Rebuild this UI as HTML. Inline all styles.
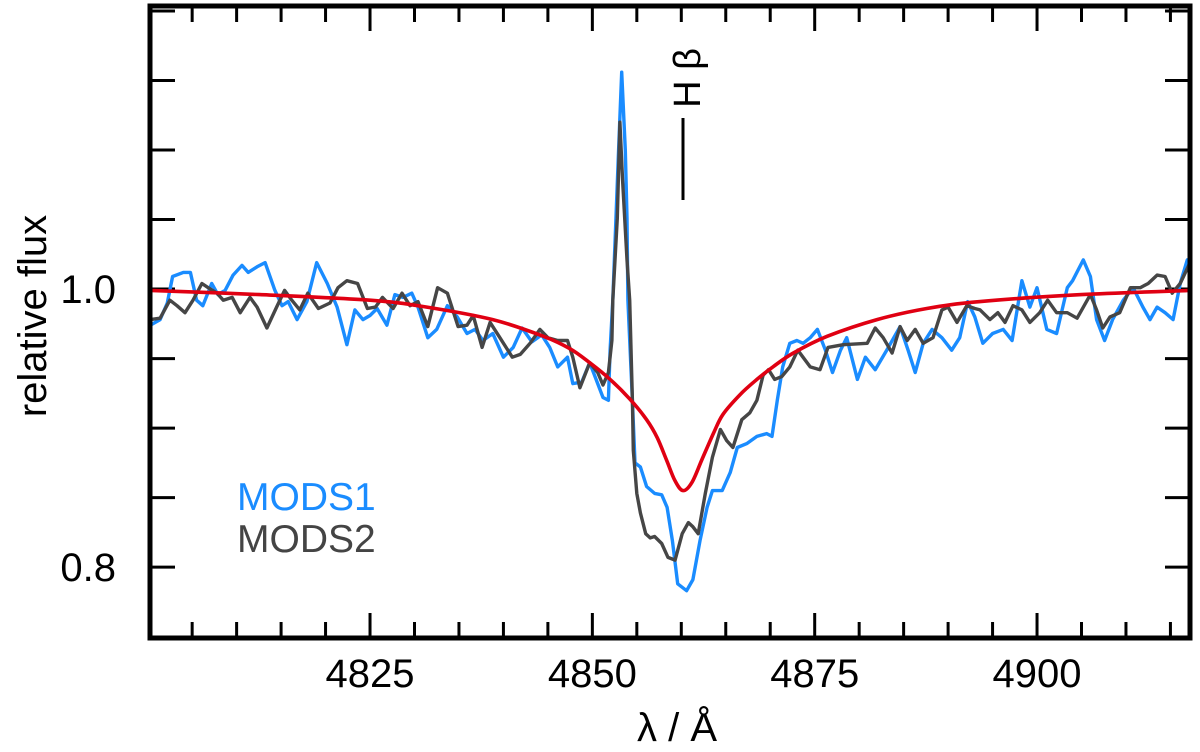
<!DOCTYPE html>
<html><head><meta charset="utf-8"><style>
html,body{margin:0;padding:0;background:#fff;}
svg{display:block;}
text{font-family:"Liberation Sans",Arial,sans-serif;}
</style></head><body>
<svg id="chart" width="1200" height="752" viewBox="0 0 1200 752" xmlns="http://www.w3.org/2000/svg">
<g id="ticks"></g>
<g id="series"></g>
<rect x="150" y="6" width="1040" height="632" fill="none" stroke="#000" stroke-width="5"/>
<g id="labels"></g>
<text x="677" y="741" font-size="40" text-anchor="middle">λ / Å</text>
<text transform="translate(46,316) rotate(-90)" font-size="40" text-anchor="middle">relative flux</text>
<text x="237" y="510" font-size="39" fill="#1a8cff">MODS1</text>
<text x="237" y="552" font-size="39" fill="#444">MODS2</text>
<line x1="683" y1="118" x2="683" y2="200" stroke="#000" stroke-width="3"/>
<text transform="translate(700,78) rotate(-90)" font-size="38" text-anchor="middle">H β</text>
</svg>
<script>
const xTicksMajor=[4825,4850,4875,4900];
const yTicksMajor=[0.8,1.0];
const yTickLabels=["0.8","1.0"];
const xTickLabels=["4825","4850","4875","4900"];
const mods1Wl=[4800.3,4801.4,4802.2,4802.8,4804.0,4804.8,4805.5,4806.2,4807.2,4807.9,4808.7,4809.6,4810.6,4811.3,4812.3,4813.2,4814.3,4815.1,4815.8,4816.8,4817.9,4819.0,4820.2,4821.3,4822.4,4823.3,4824.2,4825.0,4825.8,4826.9,4827.8,4828.7,4829.7,4830.4,4831.5,4832.5,4833.7,4834.8,4835.9,4836.8,4837.7,4838.8,4840.0,4841.1,4842.1,4843.2,4844.3,4845.2,4846.1,4847.2,4847.8,4848.8,4849.7,4850.6,4851.2,4851.8,4852.0,4852.3,4852.9,4853.3,4853.7,4853.9,4854.0,4854.5,4854.8,4855.4,4856.1,4857.0,4857.8,4858.4,4859.0,4859.6,4860.6,4861.3,4862.1,4862.9,4863.5,4864.6,4865.5,4866.3,4867.4,4868.5,4869.6,4870.2,4870.8,4871.4,4872.2,4873.0,4873.7,4874.5,4875.3,4876.2,4877.0,4877.9,4878.6,4879.8,4880.7,4881.8,4883.1,4884.6,4885.5,4886.3,4887.2,4888.2,4889.3,4890.4,4891.3,4892.2,4893.0,4893.9,4895.0,4896.2,4897.2,4898.3,4899.2,4900.0,4901.1,4902.2,4903.4,4904.0,4905.2,4906.0,4906.7,4907.6,4908.5,4909.7,4910.8,4911.9,4912.7,4913.5,4914.4,4915.3,4916.1,4916.9,4917.2];
const mods1Flux=[0.974,0.978,0.990,1.009,1.012,1.012,0.992,0.988,1.004,0.996,0.999,1.010,1.017,1.012,1.016,1.019,0.999,0.988,0.991,0.978,0.991,1.019,1.004,0.987,0.960,0.985,0.978,0.981,0.986,0.974,0.996,0.994,0.997,0.987,0.965,0.971,0.988,0.980,0.968,0.971,0.963,0.968,0.951,0.958,0.972,0.962,0.967,0.958,0.944,0.951,0.932,0.933,0.947,0.932,0.922,0.920,0.956,0.992,1.093,1.156,1.100,1.051,0.992,0.920,0.875,0.872,0.858,0.853,0.852,0.843,0.819,0.788,0.783,0.791,0.819,0.843,0.855,0.855,0.868,0.886,0.889,0.894,0.896,0.894,0.920,0.944,0.961,0.963,0.961,0.965,0.971,0.956,0.940,0.956,0.965,0.935,0.951,0.942,0.956,0.973,0.956,0.940,0.961,0.971,0.965,0.956,0.965,0.991,0.980,0.961,0.968,0.971,0.963,1.006,0.987,1.001,0.971,0.968,1.001,1.006,1.021,1.009,0.978,0.963,0.978,0.992,1.001,0.987,0.978,0.987,0.983,0.978,1.004,1.021,1.016];
const mods2Wl=[4800.3,4801.4,4802.5,4803.3,4804.2,4805.1,4806.1,4806.8,4807.8,4808.5,4809.5,4810.4,4811.5,4812.3,4813.4,4814.5,4815.4,4816.2,4817.1,4818.0,4819.2,4820.5,4821.4,4822.4,4823.6,4824.7,4825.6,4826.4,4827.6,4828.6,4829.5,4830.4,4831.5,4832.6,4833.7,4834.9,4835.9,4836.6,4837.6,4838.5,4839.6,4841.0,4841.9,4843.0,4844.1,4845.0,4846.1,4847.2,4847.8,4848.6,4849.7,4850.6,4851.2,4851.8,4852.2,4852.3,4852.8,4853.1,4853.4,4853.9,4854.2,4854.5,4854.6,4855.0,4855.4,4856.0,4856.5,4857.0,4857.8,4858.5,4859.3,4860.1,4860.8,4861.3,4861.9,4862.7,4863.5,4864.4,4865.1,4865.8,4866.8,4867.7,4868.5,4869.2,4869.8,4870.5,4871.3,4872.2,4873.1,4874.5,4875.6,4876.5,4878.2,4880.9,4881.8,4882.7,4883.7,4884.6,4885.4,4886.3,4887.2,4888.3,4889.3,4890.0,4891.0,4892.1,4893.0,4893.6,4894.7,4895.6,4896.4,4897.3,4898.3,4899.2,4900.3,4901.2,4902.2,4903.4,4904.5,4906.0,4906.7,4907.4,4908.2,4909.3,4910.5,4911.6,4912.5,4913.5,4914.4,4915.2,4916.1,4917.2];
const mods2Flux=[0.978,0.979,0.992,0.988,0.983,0.992,1.004,1.001,0.997,0.992,0.994,0.983,0.994,0.987,0.972,0.987,0.999,0.992,0.985,0.997,0.986,0.990,1.001,1.006,1.004,0.986,0.987,0.994,0.986,0.997,0.988,0.991,0.973,1.001,0.997,0.973,0.974,0.981,0.958,0.976,0.965,0.951,0.953,0.961,0.971,0.965,0.963,0.963,0.951,0.929,0.947,0.940,0.931,0.940,0.963,0.992,1.051,1.120,1.078,1.021,0.992,0.920,0.884,0.853,0.839,0.824,0.821,0.822,0.817,0.807,0.805,0.824,0.832,0.829,0.824,0.853,0.879,0.899,0.891,0.886,0.906,0.911,0.920,0.938,0.942,0.935,0.937,0.944,0.956,0.944,0.942,0.958,0.960,0.961,0.972,0.965,0.954,0.973,0.963,0.971,0.961,0.965,0.985,0.987,0.976,0.988,0.986,0.985,0.978,0.983,0.976,0.988,0.985,0.976,0.983,0.992,0.983,0.983,0.979,0.996,0.985,0.972,0.980,0.983,1.001,1.001,1.004,1.010,1.009,0.997,1.004,1.019];
const modelWl=[4800.3,4812.6,4825.0,4831.4,4838.8,4844.5,4847.5,4849.7,4852.0,4854.2,4856.1,4857.3,4858.4,4859.3,4860.2,4861.2,4862.3,4863.6,4864.7,4866.6,4868.5,4870.3,4872.6,4876.4,4882.0,4887.6,4893.6,4905.0,4917.2];
const modelFlux=[0.999,0.996,0.992,0.987,0.978,0.966,0.957,0.947,0.935,0.921,0.906,0.893,0.876,0.862,0.855,0.861,0.877,0.896,0.910,0.924,0.935,0.944,0.954,0.966,0.978,0.986,0.991,0.996,0.999];

const NS='http://www.w3.org/2000/svg';
const X0=150,X1=1190,Y0=6,Y1=638;
const WMIN=4800.26,WMAX=4917.2,FMIN=0.749,FMAX=1.2036;
function xs(w){return X0+(w-WMIN)/(WMAX-WMIN)*(X1-X0);}
function ys(f){return Y1-(f-FMIN)/(FMAX-FMIN)*(Y1-Y0);}
const tg=document.getElementById('ticks');
const lg=document.getElementById('labels');
function ln(p,x1,y1,x2,y2,w){const l=document.createElementNS(NS,'line');l.setAttribute('x1',x1);l.setAttribute('y1',y1);l.setAttribute('x2',x2);l.setAttribute('y2',y2);l.setAttribute('stroke','#000');l.setAttribute('stroke-width',w);p.appendChild(l);return l;}
for(let w=4805;w<=4915;w+=5){
  const major=(w%25===0);const L=major?25:16;const x=xs(w);
  const a=ln(tg,x,Y1,x,Y1-L,3);
  
  
  const b=ln(tg,x,Y0,x,Y0+L,3);
  
  
}
for(let k=16;k<=24;k++){
  const f=k*0.05;if(f<FMIN||f>FMAX)continue;const y=ys(f);
  const a=ln(tg,X0,y,X0+25,y,3);
  
  
  const b=ln(tg,X1,y,X1-25,y,3);
  
  
}
xTicksMajor.forEach((w,i)=>{const t=document.createElementNS(NS,'text');t.setAttribute('x',xs(w));t.setAttribute('y',687);t.setAttribute('font-size','40');t.setAttribute('text-anchor','middle');t.textContent=xTickLabels[i];


lg.appendChild(t);});
yTicksMajor.forEach((f,i)=>{const t=document.createElementNS(NS,'text');t.setAttribute('x',116);t.setAttribute('y',ys(f)+14);t.setAttribute('font-size','40');t.setAttribute('text-anchor','end');t.textContent=yTickLabels[i];


lg.appendChild(t);});
const sg=document.getElementById('series');
function poly(wl,fl,color,name){const p=document.createElementNS(NS,'polyline');p.setAttribute('points',wl.map((w,i)=>xs(w).toFixed(1)+','+ys(fl[i]).toFixed(1)).join(' '));p.setAttribute('fill','none');p.setAttribute('stroke',color);p.setAttribute('stroke-width','3.4');p.setAttribute('stroke-linejoin','round');


sg.appendChild(p);}
function smooth(wl,fl,color,name){
  const P=wl.map((w,i)=>[xs(w),ys(fl[i])]);
  let d='M'+P[0][0].toFixed(1)+','+P[0][1].toFixed(1);
  for(let i=0;i<P.length-1;i++){
    const p0=P[Math.max(0,i-1)],p1=P[i],p2=P[i+1],p3=P[Math.min(P.length-1,i+2)];
    const c1=[p1[0]+(p2[0]-p0[0])/6,p1[1]+(p2[1]-p0[1])/6];
    const c2=[p2[0]-(p3[0]-p1[0])/6,p2[1]-(p3[1]-p1[1])/6];
    d+=' C'+c1[0].toFixed(1)+','+c1[1].toFixed(1)+' '+c2[0].toFixed(1)+','+c2[1].toFixed(1)+' '+p2[0].toFixed(1)+','+p2[1].toFixed(1);
  }
  const p=document.createElementNS(NS,'path');p.setAttribute('d',d);p.setAttribute('fill','none');p.setAttribute('stroke',color);p.setAttribute('stroke-width','3.6');
  
  
  sg.appendChild(p);
}
poly(mods1Wl,mods1Flux,'#1a8cff','mods1-line');
poly(mods2Wl,mods2Flux,'#464646','mods2-line');
smooth(modelWl,modelFlux,'#e00012','model-line');
</script>
</body></html>
